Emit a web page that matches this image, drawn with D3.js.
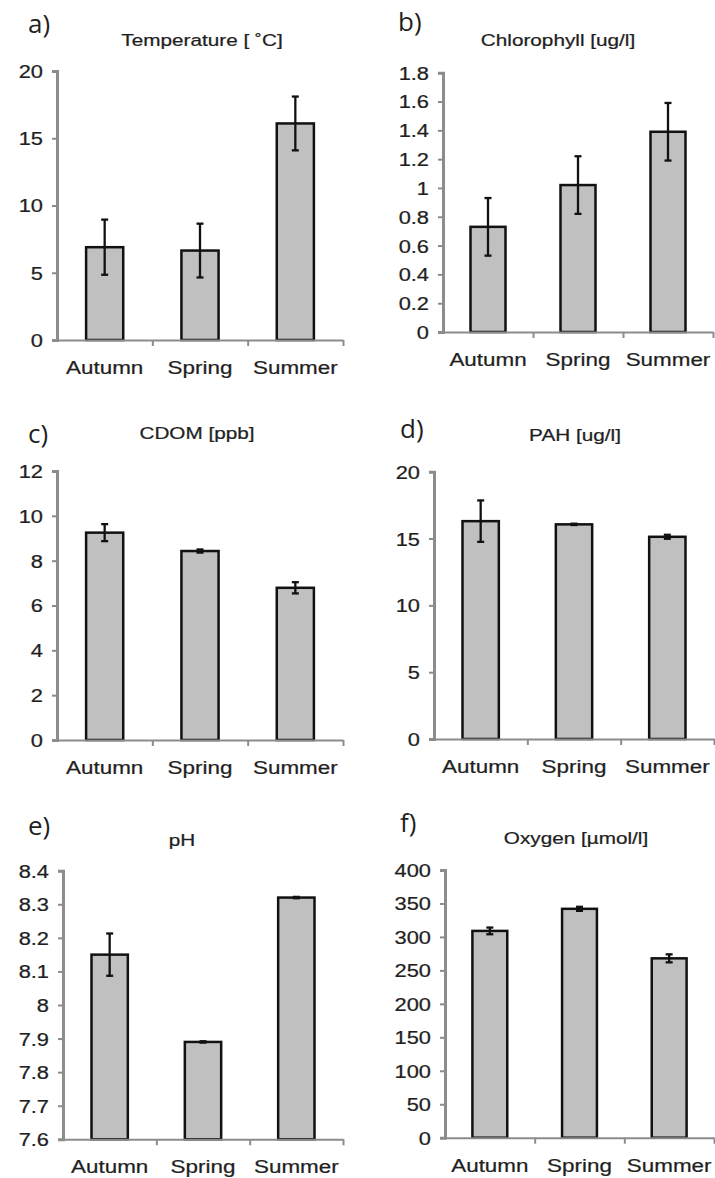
<!DOCTYPE html>
<html>
<head>
<meta charset="utf-8">
<script src="https://cdn.jsdelivr.net/npm/d3@7"></script>
<style>
  html, body { margin: 0; padding: 0; background: #ffffff; }
  svg { display: block; }
  text { font-family: "Liberation Sans", Arial, sans-serif; fill: #1f1f1f; stroke: #1f1f1f; stroke-width: 0.25px; }
  .panel-tag { font-family: "Open Sans", "Noto Sans", sans-serif; stroke-width: 0; }
</style>
</head>
<body>
<svg id="chart" width="715" height="1178"></svg>
<script>
// Seasonal water-quality measurements: mean values with error bars
const categories = ["Autumn", "Spring", "Summer"];

const temperature    = [6.9, 6.65, 16.1];
const temperatureErr = [2.05, 2.0, 2.0];
const temperatureTicks = [0, 5, 10, 15, 20];

const chlorophyll    = [0.73, 1.02, 1.39];
const chlorophyllErr = [0.2, 0.2, 0.2];
const chlorophyllTicks = [0, 0.2, 0.4, 0.6, 0.8, 1, 1.2, 1.4, 1.6, 1.8];

const cdom    = [9.25, 8.43, 6.79];
const cdomErr = [0.38, 0.07, 0.25];
const cdomTicks = [0, 2, 4, 6, 8, 10, 12];

const pah    = [16.3, 16.06, 15.13];
const pahErr = [1.55, 0.05, 0.15];
const pahTicks = [0, 5, 10, 15, 20];

const ph    = [8.15, 7.89, 8.32];
const phErr = [0.063, 0.002, 0.002];
const phTicks = [7.6, 7.7, 7.8, 7.9, 8, 8.1, 8.2, 8.3, 8.4];

const oxygen    = [309, 342, 268];
const oxygenErr = [5, 3, 6];
const oxygenTicks = [0, 50, 100, 150, 200, 250, 300, 350, 400];

// Panel frames (plot area edges, title and tag placement)
const panels = [
  { tag: "a)", title: "Temperature [ \u02DAC]", values: temperature, errs: temperatureErr, ticks: temperatureTicks,
    left: 57, right: 343, top: 71, bottom: 340, titleX: 202, titleY: 40, tagX: 28, tagY: 24 },
  { tag: "b)", title: "Chlorophyll [ug/l]", values: chlorophyll, errs: chlorophyllErr, ticks: chlorophyllTicks,
    left: 443, right: 713, top: 72.7, bottom: 332, titleX: 558, titleY: 40, tagX: 398, tagY: 22 },
  { tag: "c)", title: "CDOM [ppb]", values: cdom, errs: cdomErr, ticks: cdomTicks,
    left: 57, right: 343, top: 471, bottom: 740, titleX: 197, titleY: 433, tagX: 28, tagY: 434 },
  { tag: "d)", title: "PAH [ug/l]", values: pah, errs: pahErr, ticks: pahTicks,
    left: 434, right: 714, top: 471.7, bottom: 739, titleX: 575, titleY: 435, tagX: 400, tagY: 429 },
  { tag: "e)", title: "pH", values: ph, errs: phErr, ticks: phTicks,
    left: 63, right: 343, top: 870.7, bottom: 1139.3, titleX: 182, titleY: 840, tagX: 28, tagY: 826 },
  { tag: "f)", title: "Oxygen [\u00B5mol/l]", values: oxygen, errs: oxygenErr, ticks: oxygenTicks,
    left: 445, right: 714, top: 870, bottom: 1137.7, titleX: 576, titleY: 838, tagX: 400, tagY: 823 }
];

const AXIS_GRAY = "#8c8c8c";
const BAR_FILL = "#c0c0c0";
const TEXT_STRETCH = 1.18;

const svg = d3.select("#chart");
const fmt = v => String(+v.toFixed(2));

panels.forEach(p => {
  const g = svg.append("g");

  const y = d3.scaleLinear()
    .domain([p.ticks[0], p.ticks[p.ticks.length - 1]])
    .range([p.bottom, p.top]);

  const x = d3.scaleBand()
    .domain(categories)
    .range([p.left, p.right])
    .paddingInner(0.6)
    .paddingOuter(0.3);

  // category boundaries along the x axis
  const xDiv = d3.scaleLinear().domain([0, categories.length]).range([p.left, p.right]);

  // panel tag and title
  g.append("text")
    .attr("class", "panel-tag")
    .attr("x", p.tagX)
    .attr("y", p.tagY)
    .attr("dy", "0.35em")
    .style("font-size", "26px")
    .text(p.tag);

  g.append("text")
    .attr("transform", `translate(${p.titleX},${p.titleY}) scale(${TEXT_STRETCH + 0.04},1)`)
    .attr("text-anchor", "middle")
    .attr("dy", "0.35em")
    .style("font-size", "17px")
    .text(p.title);

  // bars
  g.selectAll("rect.bar")
    .data(p.values)
    .join("rect")
    .attr("class", "bar")
    .attr("x", (d, i) => x(categories[i]) + 0.5)
    .attr("width", x.bandwidth() - 1)
    .attr("y", d => y(d))
    .attr("height", d => y(p.ticks[0]) - y(d))
    .attr("fill", BAR_FILL)
    .attr("stroke", "#111")
    .attr("stroke-width", 2.5);

  // error bars
  const eb = g.selectAll("g.err")
    .data(p.values.map((v, i) => ({ v, e: p.errs[i], c: categories[i] })))
    .join("g")
    .attr("class", "err")
    .attr("transform", d => `translate(${x(d.c) + x.bandwidth() / 2},0)`)
    .attr("stroke", "#111")
    .attr("stroke-width", 2.3);
  eb.append("line")
    .attr("y1", d => y(d.v - d.e))
    .attr("y2", d => y(d.v + d.e));
  eb.append("line")
    .attr("x1", -3.5).attr("x2", 3.5)
    .attr("y1", d => y(d.v + d.e)).attr("y2", d => y(d.v + d.e));
  eb.append("line")
    .attr("x1", -3.5).attr("x2", 3.5)
    .attr("y1", d => y(d.v - d.e)).attr("y2", d => y(d.v - d.e));

  // x axis with boundary ticks
  const xAxis = g.append("g")
    .attr("transform", `translate(0,${p.bottom})`)
    .call(d3.axisBottom(xDiv)
      .tickValues(d3.range(1, categories.length + 1))
      .tickSize(6)
      .tickSizeOuter(0)
      .tickFormat(""));
  xAxis.select(".domain").attr("stroke", AXIS_GRAY).attr("stroke-width", 2);
  xAxis.selectAll(".tick line").attr("stroke", AXIS_GRAY).attr("stroke-width", 2);

  g.selectAll("text.cat")
    .data(categories)
    .join("text")
    .attr("class", "cat")
    .attr("transform", d => `translate(${x(d) + x.bandwidth() / 2},${p.bottom + 34}) scale(${TEXT_STRETCH},1)`)
    .attr("text-anchor", "middle")
    .style("font-size", "19px")
    .text(d => d);

  // y axis
  const yAxis = g.append("g")
    .attr("transform", `translate(${p.left},0)`)
    .call(d3.axisLeft(y)
      .tickValues(p.ticks)
      .tickSize(5)
      .tickSizeOuter(5)
      .tickFormat(fmt));
  yAxis.select(".domain").attr("stroke", AXIS_GRAY).attr("stroke-width", 3);
  yAxis.selectAll(".tick line").attr("stroke", AXIS_GRAY).attr("stroke-width", 2);
  yAxis.selectAll(".tick text")
    .attr("x", null)
    .attr("transform", `translate(-14,0) scale(${TEXT_STRETCH},1)`)
    .attr("text-anchor", "end")
    .attr("dy", "0.35em")
    .attr("fill", "#1f1f1f")
    .style("font-family", "'Liberation Sans', Arial, sans-serif")
    .style("font-size", "18.5px");
});
</script>
</body>
</html>
